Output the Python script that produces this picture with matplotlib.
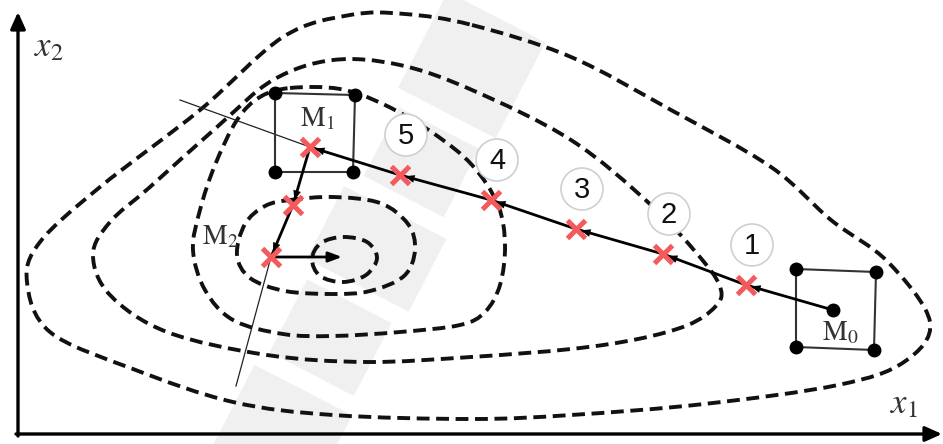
import numpy as np
import matplotlib.pyplot as plt
from matplotlib.path import Path
from matplotlib.patches import PathPatch, Polygon, Circle

plt.rcParams['mathtext.fontset'] = 'stix'

# level lines of the objective (pixel-like coordinates, y grows downward)
level_1 = [(472, 25), (571, 57), (671, 110), (771, 167), (831, 220), (888, 262),
           (930, 322), (904, 362), (838, 385), (704, 404), (571, 415), (472, 419),
           (333, 415), (233, 402), (133, 369), (50, 332), (27, 282), (40, 242),
           (100, 187), (200, 110), (283, 37), (350, 15), (405, 14)]
level_2 = [(333, 60), (400, 65), (472, 90), (571, 140), (651, 205), (704, 262),
           (721, 290), (715, 307), (688, 325), (638, 339), (571, 349), (471, 357),
           (367, 362), (267, 355), (167, 332), (110, 295), (93, 255), (110, 222),
           (150, 187), (217, 127), (273, 80)]
level_3 = [(290, 88), (340, 89), (385, 105), (433, 133), (472, 165), (498, 205),
           (505, 245), (500, 285), (485, 312), (460, 325), (400, 332), (333, 336),
           (283, 334), (233, 320), (205, 290), (193, 250), (200, 210), (215, 165),
           (237, 120), (260, 97)]
level_4 = [(290, 200), (333, 197), (380, 203), (408, 224), (415, 250), (404, 276),
           (370, 291), (333, 294), (285, 291), (250, 278), (237, 255), (245, 224),
           (265, 206)]
level_5 = [(343, 237), (367, 242), (377, 258), (366, 275), (343, 282), (320, 276),
           (312, 259), (321, 243)]
levels = [level_1, level_2, level_3, level_4, level_5]

# descent path: base point M0, trial points 1..5, then M1 and M2
m0 = (833, 310)
step_x = [746, 663, 576, 491, 400]
step_y = [285, 254, 229, 200, 175]
step_labels = ['1', '2', '3', '4', '5']
m1 = (310, 147)
probe = (293, 205)
m2 = (271, 257)
m2_dir = (342, 257)

# exploratory boxes around M0 and M1 (corner points)
box_m0 = [(796, 269), (876, 272), (874, 350), (796, 347)]
box_m1 = [(275, 93), (355, 95), (353, 172), (275, 172)]


def smooth_closed(pts):
    # closed Catmull-Rom curve turned into cubic Bezier segments
    p = np.asarray(pts, float)
    n = len(p)
    verts = [p[0]]
    codes = [Path.MOVETO]
    for i in range(n):
        p0, p1, p2, p3 = p[i - 1], p[i], p[(i + 1) % n], p[(i + 2) % n]
        verts += [p1 + (p2 - p0) / 6.0, p2 - (p3 - p1) / 6.0, p2]
        codes += [Path.CURVE4] * 3
    return Path(verts, codes)


fig = plt.figure(figsize=(9.43, 4.44), dpi=100)
ax = fig.add_axes([0, 0, 1, 1])
ax.set_xlim(0, 943)
ax.set_ylim(444, 0)
ax.axis('off')

# faint diagonal watermark
d = np.array([230.0, -444.0])
d /= np.linalg.norm(d)
nrm = np.array([-d[1], d[0]])
start = np.array([262.0, 470.0])
for s0, s1, w in [(0, 90, 110), (108, 190, 95), (208, 290, 115), (308, 385, 90),
                  (402, 510, 110)]:
    a = start + d * s0
    b = start + d * s1
    poly = [a - nrm * w / 2, b - nrm * w / 2, b + nrm * w / 2, a + nrm * w / 2]
    ax.add_patch(Polygon(poly, closed=True, fc='#f0f0f0', ec='none', zorder=0))

# axes arrows
ax.annotate('', xy=(18, 12), xytext=(18, 436),
            arrowprops=dict(arrowstyle='-|>,head_length=1.0,head_width=0.45',
                            lw=2.4, color='black', shrinkA=0, shrinkB=0))
ax.annotate('', xy=(942, 434), xytext=(16, 434),
            arrowprops=dict(arrowstyle='-|>,head_length=1.0,head_width=0.45',
                            lw=2.4, color='black', shrinkA=0, shrinkB=0))
ax.text(34, 46, r'$x_2$', fontsize=25, color='#333333', va='center')
ax.text(890, 403, r'$x_1$', fontsize=25, color='#333333', va='center')

for lvl in levels:
    ax.add_patch(PathPatch(smooth_closed(lvl), fc='none', ec='#111111', lw=2.8,
                           ls=(0, (3.3, 1.7)), zorder=2))

# thin guide lines through M1 and M2
ax.plot([180, m1[0]], [100, m1[1]], color='#222222', lw=0.9, zorder=3)
ax.plot([m2[0], 236], [m2[1], 386], color='#222222', lw=0.9, zorder=3)

for box in [box_m0, box_m1]:
    ax.add_patch(Polygon(box, closed=True, fc='none', ec='#333333', lw=1.5, zorder=3))
    bx, by = zip(*box)
    ax.plot(bx, by, 'o', ms=9, color='black', zorder=5)
ax.plot(*m0, 'o', ms=9, color='black', zorder=5)

# path with arrows from each point to the next
path_x = [m0[0]] + step_x + [m1[0], probe[0], m2[0]]
path_y = [m0[1]] + step_y + [m1[1], probe[1], m2[1]]
ax.plot(path_x, path_y, color='black', lw=2.0, zorder=4)
arrow_kw = dict(arrowstyle='-|>,head_length=0.7,head_width=0.28', lw=0,
                color='black', shrinkA=0, shrinkB=0)
for i in range(len(path_x) - 1):
    x0, y0 = path_x[i], path_y[i]
    x1, y1 = path_x[i + 1], path_y[i + 1]
    L = np.hypot(x1 - x0, y1 - y0)
    ux, uy = (x1 - x0) / L, (y1 - y0) / L
    ax.annotate('', xy=(x1 - ux * 5, y1 - uy * 5),
                xytext=(x1 - ux * 20, y1 - uy * 20), arrowprops=arrow_kw, zorder=4)
ax.annotate('', xy=m2_dir, xytext=m2,
            arrowprops=dict(arrowstyle='-|>,head_length=0.8,head_width=0.3',
                            lw=2.0, color='black', shrinkA=0, shrinkB=0), zorder=4)

# red crosses at trial points
cross_x = step_x + [m1[0], probe[0], m2[0]]
cross_y = step_y + [m1[1], probe[1], m2[1]]
ax.plot(cross_x, cross_y, 'x', ms=13, mew=3.6, color='#f25a5c', zorder=6)

# circled step numbers
for x, y, lab in zip(step_x, step_y, step_labels):
    cx, cy = x + 6, y - 40
    ax.add_patch(Circle((cx, cy), 21, fc='white', ec='#cfcfcf', lw=1.2, zorder=6))
    ax.text(cx, cy + 1, lab, fontsize=21, family='Liberation Sans', ha='center',
            va='center', color='#111111', zorder=7)

ax.text(317, 118, r'$\mathrm{M}_1$', fontsize=20, color='#333333',
        ha='center', va='center', zorder=7)
ax.text(840, 332, r'$\mathrm{M}_0$', fontsize=20, color='#333333',
        ha='center', va='center', zorder=7)
ax.text(220, 236, r'$\mathrm{M}_2$', fontsize=20, color='#333333',
        ha='center', va='center', zorder=7)

plt.savefig('out.png', dpi=100)
